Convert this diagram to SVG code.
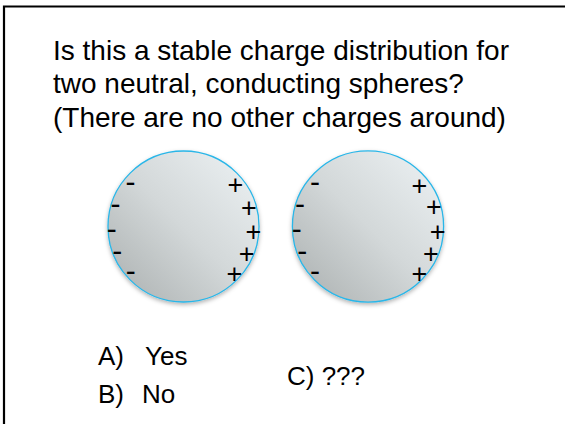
<svg xmlns="http://www.w3.org/2000/svg" width="565" height="424" viewBox="0 0 565 424">
<defs>
<linearGradient id="sph" x1="1" y1="0" x2="0" y2="1">
<stop offset="0" stop-color="#eef3f5"/>
<stop offset="0.5" stop-color="#d3d8d9"/>
<stop offset="1" stop-color="#a9aeae"/>
</linearGradient>
<filter id="sh" x="-20%" y="-20%" width="140%" height="140%">
<feDropShadow dx="0" dy="2" stdDeviation="2" flood-color="#000" flood-opacity="0.3"/>
</filter>
<style>
.t{font-family:"Liberation Sans",Arial,sans-serif;fill:#000}
.q{font-size:28px}
.a{font-size:26px}
.p{font-family:"Liberation Sans",Arial,sans-serif;font-size:27px;text-anchor:middle}
.m{font-family:"Liberation Sans",Arial,sans-serif;font-size:30px;text-anchor:middle}
.ball{fill:url(#sph);stroke:#29b6e8;stroke-width:1.3;filter:url(#sh)}
</style>
</defs>
<rect x="0" y="0" width="565" height="424" fill="#fff"/>
<path d="M4,424 V6.5 H566" fill="none" stroke="#000" stroke-width="2.2"/>
<g id="question">
<text class="t q" x="53" y="60">Is this a stable charge distribution for</text>
<text class="t q" x="53" y="93.3">two neutral, conducting spheres?</text>
<text class="t q" x="53" y="126.6">(There are no other charges around)</text>
</g>
<g id="sphere1">
<circle class="ball" cx="183.5" cy="226.5" r="75.5"/>
<text class="m" x="130.5" y="191.6">-</text>
<text class="m" x="115.5" y="214.3">-</text>
<text class="m" x="111.7" y="239">-</text>
<text class="m" x="117.3" y="260.6">-</text>
<text class="m" x="130.7" y="280.6">-</text>
<text class="p" x="235.3" y="194.4">+</text>
<text class="p" x="249" y="217">+</text>
<text class="p" x="253.3" y="240.7">+</text>
<text class="p" x="246.7" y="263">+</text>
<text class="p" x="234.3" y="283">+</text>
</g>
<g id="sphere2">
<circle class="ball" cx="368" cy="226.5" r="75.6"/>
<text class="m" x="315" y="191.6">-</text>
<text class="m" x="300" y="214">-</text>
<text class="m" x="296.7" y="239">-</text>
<text class="m" x="302.3" y="260.6">-</text>
<text class="m" x="315" y="280.6">-</text>
<text class="p" x="419.3" y="194.7">+</text>
<text class="p" x="434" y="216.4">+</text>
<text class="p" x="437.7" y="240.7">+</text>
<text class="p" x="431" y="263">+</text>
<text class="p" x="419.3" y="283">+</text>
</g>
<g id="answers">
<text class="t a" x="98" y="365">A)</text>
<text class="t a" x="145" y="365">Yes</text>
<text class="t a" x="98" y="403">B)</text>
<text class="t a" x="142" y="403">No</text>
<text class="t a" x="287" y="385">C) ???</text>
</g>
</svg>
